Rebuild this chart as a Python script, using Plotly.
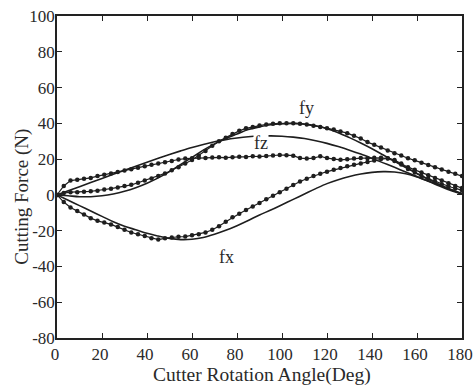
import plotly.graph_objects as go

# Measured data (3-degree steps)
angle_meas = list(range(0, 181, 3))
fx_meas = [0, -4, -7, -9, -11, -13, -14.5, -15.5, -16.5, -18, -19.5, -21, -22, -23, -24.2, -25,
           -24.3, -23.8, -23.4, -23.3, -22.6, -22, -21, -19.5, -17.5, -15, -12.5, -10.5, -8.5, -6.5,
           -4.5, -2.5, -0.5, 1.5, 3.5, 5.5, 7.5, 9, 10.5, 11.8, 13, 14, 15, 16, 16.8, 17.6, 18.4,
           19.2, 20, 20.5, 19.5, 17.5, 15.5, 14, 12.5, 11, 9.5, 8, 6.5, 5, 3.8]
fy_meas = [0, 1, 1.5, 1.5, 1.8, 2, 2.3, 3, 3.5, 4.2, 5, 5.6, 6.8, 8, 9.2, 10.5, 12, 13.8, 15.5,
           17.5, 19.5, 22, 24.5, 27.5, 30, 32, 34, 35.8, 37.2, 38, 38.8, 39.4, 39.8, 40, 40, 40,
           39.8, 39.3, 38.7, 38, 37.3, 36.5, 35.5, 34.5, 33, 31.5, 29.5, 28, 26.5, 24.8, 23.3, 22,
           20.5, 19.3, 18, 16.7, 15.5, 14.2, 13, 11.8, 10.5]
fz_meas = [0, 5, 8, 8.5, 9, 9.5, 10.5, 11.2, 12, 12.8, 13.6, 14.4, 15.2, 16, 16.8, 17.6, 18.3, 19,
           19.8, 20.3, 20.5, 20.7, 20.6, 20.9, 21, 20.8, 21.1, 21.3, 21.2, 21.6, 21.4, 21.8, 22,
           22.3, 22.2, 21.9, 20.6, 20.3, 20.6, 21.6, 20.6, 20.1, 19.6, 19.9, 20.4, 20.6, 20.5, 20.8,
           20.7, 20.3, 19, 17, 14.5, 12.5, 10.5, 9, 7.5, 6, 4.8, 3.6, 2.6]

# Model data (5-degree steps)
angle_model = list(range(0, 181, 5))
fx_model = [0, -3, -6, -9, -12, -15, -17.5, -19.5, -21.5, -23, -24.3, -25, -24.8, -23.8, -22,
            -19.8, -17.2, -14.3, -11.2, -8.5, -5.5, -2.5, 0.5, 3.5, 6.3, 8.5, 10.3, 11.7, 12.6,
            13, 12.8, 11.8, 10, 7.6, 5, 2.5, 0.5]
fy_model = [0, -0.5, -1, -1, -0.5, 0.5, 2, 4, 6.5, 9.5, 13, 17, 21, 25, 28.5, 31.5, 34, 36.5, 38,
            39.2, 39.8, 40, 39.6, 38.6, 37, 34.8, 32, 29, 25.8, 22.3, 18.8, 15.3, 12, 8.8, 5.8, 3, 0.5]
fz_model = [0, 2.3, 4.6, 6.9, 9.2, 11.5, 13.8, 16, 18.3, 20.5, 22.6, 24.6, 26.5, 28.2, 29.7, 30.9,
            31.8, 32.5, 32.9, 33, 32.8, 32.3, 31.5, 30.3, 28.8, 27, 25, 22.8, 20.4, 17.9, 15.4,
            12.8, 10.3, 7.8, 5.4, 3, 0.8]

x_ticks = [0, 20, 40, 60, 80, 100, 120, 140, 160, 180]
y_ticks = [-80, -60, -40, -20, 0, 20, 40, 60, 80, 100]
y_ticktext = ["-80", "-60", "-40", "-20", "0", "20", "40", "60", "80", "100"]

labels = ["fx", "fy", "fz"]
label_x = [75.5, 111, 90.7]
label_y = [-34.6, 48.6, 29]

x_title = "Cutter Rotation Angle(Deg)"
y_title = "Cutting Force (N)"

LINE = "#1e1e1e"
TXT = "#2a2a2a"
FONT = "Liberation Serif, Times New Roman, serif"

fig = go.Figure()
for ys in (fx_model, fy_model, fz_model):
    fig.add_trace(go.Scatter(x=angle_model, y=ys, mode="lines",
                             line=dict(color=LINE, width=1.6, shape="spline"),
                             showlegend=False, hoverinfo="skip"))
for ys in (fx_meas, fy_meas, fz_meas):
    fig.add_trace(go.Scatter(x=angle_meas, y=ys, mode="lines+markers",
                             line=dict(color=LINE, width=1.2),
                             marker=dict(color=LINE, size=4.5, symbol="circle"),
                             showlegend=False, hoverinfo="skip"))

for t, x, y in zip(labels, label_x, label_y):
    fig.add_annotation(x=x, y=y, text=t, showarrow=False, bgcolor="white",
                       font=dict(family=FONT, size=18, color=TXT), borderpad=0)

fig.add_annotation(xref="paper", yref="paper", x=0.505, y=-0.115, text=x_title,
                   showarrow=False, xanchor="center", yanchor="middle",
                   font=dict(family=FONT, size=19.5, color=TXT))
fig.add_annotation(xref="paper", yref="paper", x=-0.087, y=0.438, text=y_title,
                   showarrow=False, xanchor="center", yanchor="middle", textangle=-90,
                   font=dict(family=FONT, size=19, color=TXT))

axis_common = dict(showline=True, linecolor="#222", linewidth=1.5, mirror="ticks",
                   ticks="inside", ticklen=5, tickcolor="#222", showgrid=False, zeroline=False,
                   automargin=False, ticklabeloverflow="allow",
                   tickfont=dict(family=FONT, size=17, color=TXT))

fig.update_xaxes(range=[0, 180], tickvals=x_ticks, ticklabelstandoff=0, ticklabelshift=-2,
                 **axis_common)
fig.update_yaxes(range=[-80, 100], tickvals=y_ticks, ticktext=y_ticktext,
                 ticklabelstandoff=-3, **axis_common)

fig.update_layout(width=473, height=387, margin=dict(l=57, r=11, t=16, b=49),
                  paper_bgcolor="white", plot_bgcolor="white")

# remove the default 8px page margin so the figure fills the window exactly
fig.write_html("out.html", config={"displayModeBar": False},
               post_script="document.body.style.margin='0';")
